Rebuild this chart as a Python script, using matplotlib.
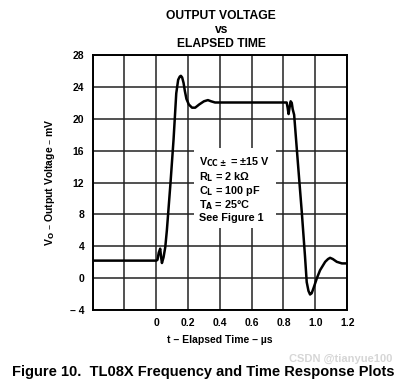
import matplotlib
matplotlib.use('Agg')
import matplotlib.pyplot as plt

plt.rcParams['font.family'] = ['Liberation Sans', 'DejaVu Sans']
plt.rcParams['font.weight'] = 'bold'

# time in microseconds, output voltage in mV
t = [-0.4, 0.0, 0.008, 0.016, 0.025, 0.031, 0.036, 0.046, 0.057, 0.067,
     0.09, 0.109, 0.126, 0.138, 0.148, 0.155, 0.163, 0.172, 0.18, 0.19,
     0.205, 0.225, 0.245, 0.27, 0.30, 0.325, 0.345, 0.37, 0.40, 0.82,
     0.826, 0.832, 0.838, 0.845, 0.852, 0.858, 0.867, 0.89, 0.915, 0.935,
     0.946, 0.957, 0.967, 0.977, 0.988, 1.01, 1.03, 1.062, 1.08, 1.093,
     1.11, 1.135, 1.167, 1.2]
vo = [2.2, 2.2, 2.3, 3.2, 3.7, 2.6, 1.9, 2.6, 3.9, 6.0,
      12.0, 17.4, 23.2, 24.9, 25.3, 25.4, 25.2, 24.5, 23.5, 22.5,
      21.8, 21.4, 21.4, 21.8, 22.2, 22.35, 22.2, 22.05, 22.05, 22.05,
      21.4, 20.6, 21.4, 22.2, 22.0, 21.2, 20.5, 14.6, 8.3, 2.8,
      -0.5, -1.6, -2.05, -1.9, -1.3, 0.0, 1.0, 2.05, 2.4, 2.55,
      2.4, 2.05, 1.85, 1.85]

xticks = [-0.4, -0.2, 0.0, 0.2, 0.4, 0.6, 0.8, 1.0, 1.2]
xlabels = ['', '', '0', '0.2', '0.4', '0.6', '0.8', '1.0', '1.2']
yticks = [-4, 0, 4, 8, 12, 16, 20, 24, 28]
ylabels = ['– 4', '0', '4', '8', '12', '16', '20', '24', '28']

fig = plt.figure(figsize=(4.06, 3.88), dpi=100)
ax = fig.add_axes([0.228, 0.201, 0.627, 0.657])

ax.plot(t, vo, color='black', lw=1.8, zorder=3)
ax.set_xlim(-0.4, 1.2)
ax.set_ylim(-4, 28)
ax.set_xticks(xticks)
ax.set_xticklabels(xlabels)
ax.set_yticks(yticks)
ax.set_yticklabels(ylabels)
ax.tick_params(length=0, labelsize=7.5, pad=6)
ax.grid(True, color='#222222', lw=1.1)
for s in ax.spines.values():
    s.set_linewidth(1.4)

ax.set_xlabel('t – Elapsed Time – µs', fontsize=7.5, fontweight='bold', labelpad=5)
ax.set_ylabel('V$_\\mathbf{O}$ – Output Voltage – mV', fontsize=7.5,
              fontweight='bold', labelpad=9)

fig.text(0.545, 0.975, 'OUTPUT VOLTAGE', ha='center', va='top', fontsize=8.7, fontweight='bold')
fig.text(0.545, 0.938, 'vs', ha='center', va='top', fontsize=8.7, fontweight='bold')
fig.text(0.545, 0.901, 'ELAPSED TIME', ha='center', va='top', fontsize=8.7, fontweight='bold')

note = ('V$_\\mathbf{CC\\pm}$ = ±15 V\n'
        'R$_\\mathbf{L}$ = 2 kΩ\n'
        'C$_\\mathbf{L}$ = 100 pF\n'
        'T$_\\mathbf{A}$ = 25°C\n'
        'See Figure 1')
ax.text(0.27, 15.4, note, fontsize=7.8, fontweight='bold', va='top', ha='left',
        linespacing=1.05, zorder=4,
        bbox=dict(facecolor='white', edgecolor='none', pad=4))

fig.text(0.5, 0.04, 'Figure 10.  TL08X Frequency and Time Response Plots',
         ha='center', va='center', fontsize=10.5, fontweight='bold')
fig.text(0.84, 0.075, 'CSDN @tianyue100', ha='center', va='center',
         fontsize=8, color='#cccccc', alpha=0.8)

fig.savefig('out.png', dpi=100)
